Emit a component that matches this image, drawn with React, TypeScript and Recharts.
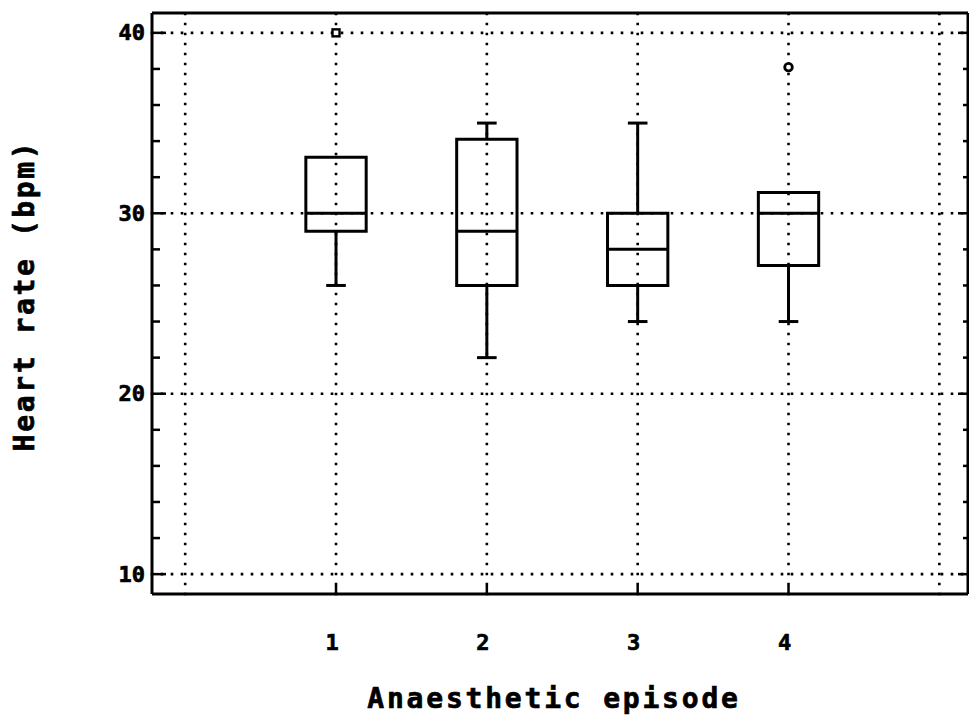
import React from 'react';
import { ComposedChart, XAxis, YAxis, ReferenceLine, ReferenceArea, Scatter } from 'recharts';

// box plot summary per anaesthetic episode (heart rate, bpm)
const episodes = [1, 2, 3, 4];
const whiskerLow = [26, 22, 24, 24];
const lowerQuartile = [29, 26, 26, 27.1];
const medians = [30, 29, 28, 30];
const upperQuartile = [33.1, 34.1, 30, 31.15];
const whiskerHigh = [33.1, 35, 35, 31.15];
const squareOutliers = [{ x: 1, y: 40 }];
const circleOutliers = [{ x: 4, y: 38.1 }];

const yTicks = [10, 12, 14, 16, 18, 20, 22, 24, 26, 28, 30, 32, 34, 36, 38, 40];
const xTicks = [1, 2, 3, 4];
const gridX = [0, 1, 2, 3, 4, 5];
const gridY = [10, 20, 30, 40];

const xTitle = 'Anaesthetic episode';
const yTitle = 'Heart rate (bpm)';

const FONT = '"DejaVu Sans Mono", "Liberation Mono", monospace';
const BOX_HALF = 0.2;
const CAP_HALF = 0.065;
const INK = '#000';

const dotted = {
  stroke: INK,
  strokeWidth: 2.6,
  strokeDasharray: '0 10',
  strokeLinecap: 'square' as const,
};

const solid = { stroke: INK, strokeWidth: 3 };

// heavier lettering, like the old plotter font
const heavy = { fontFamily: FONT, fontWeight: 'bold', fill: INK, stroke: INK, strokeWidth: 0.7 };

const LeftTick = (props: any) => {
  const { x, y, payload } = props;
  const major = payload.value % 10 === 0;
  return (
    <g>
      <line x1={x} y1={y} x2={x + (major ? 14 : 8)} y2={y} stroke={INK} strokeWidth={2.5} />
      {major && (
        <text x={x - 7} y={y} dy={7.5} textAnchor="end" fontSize={22} {...heavy}>
          {payload.value}
        </text>
      )}
    </g>
  );
};

const RightTick = (props: any) => {
  const { x, y, payload } = props;
  const major = payload.value % 10 === 0;
  return <line x1={x} y1={y} x2={x - (major ? 10 : 5)} y2={y} stroke={INK} strokeWidth={2.5} />;
};

const BottomTick = (props: any) => {
  const { x, y, payload } = props;
  return (
    <g>
      <line x1={x} y1={y} x2={x} y2={y - 9} stroke={INK} strokeWidth={2.5} />
      <text x={x - 4} y={y + 56} textAnchor="middle" fontSize={22} {...heavy}>
        {payload.value}
      </text>
    </g>
  );
};

const TopTick = (props: any) => {
  const { x, y } = props;
  return <line x1={x} y1={y} x2={x} y2={y + 8} stroke={INK} strokeWidth={2.5} />;
};

const XTitle = (props: any) => {
  const vb = props.viewBox || {};
  return (
    <text x={vb.x + vb.width / 2 - 6} y={vb.y + 114} textAnchor="middle" fontSize={28} letterSpacing={2.8} {...heavy}>
      {xTitle}
    </text>
  );
};

const YTitle = (props: any) => {
  const vb = props.viewBox || {};
  const cx = 34;
  const cy = vb.y + vb.height / 2 - 8;
  return (
    <text
      x={cx}
      y={cy}
      transform={`rotate(-90, ${cx}, ${cy})`}
      textAnchor="middle"
      fontSize={28}
      letterSpacing={2.6}
      {...heavy}
    >
      {yTitle}
    </text>
  );
};

const SquareMark = (props: any) => (
  <rect x={props.cx - 3.5} y={props.cy - 3.5} width={7} height={7} fill="#fff" stroke={INK} strokeWidth={2.4} />
);

const CircleMark = (props: any) => (
  <circle cx={props.cx} cy={props.cy} r={3.8} fill="#fff" stroke={INK} strokeWidth={2.8} />
);

export default function App() {
  return (
    <div style={{ position: 'absolute', left: 0, top: 0, width: 969, height: 720, background: '#fff' }}>
      <ComposedChart width={969} height={720} margin={{ top: 13, right: 1, bottom: 0, left: 0 }}>
        <XAxis
          xAxisId={0}
          dataKey="x"
          type="number"
          domain={[-0.22, 5.19]}
          ticks={xTicks}
          allowDataOverflow
          height={126}
          tickSize={0}
          tickMargin={0}
          tickLine={false}
          tick={BottomTick}
          axisLine={solid}
          label={XTitle}
        />
        <XAxis
          xAxisId="top"
          orientation="top"
          type="number"
          domain={[-0.22, 5.19]}
          ticks={xTicks}
          allowDataOverflow
          mirror
          tickSize={0}
          tickMargin={0}
          tickLine={false}
          tick={TopTick}
          axisLine={solid}
        />
        <YAxis
          yAxisId={0}
          type="number"
          domain={[8.9, 41.1]}
          ticks={yTicks}
          allowDataOverflow
          width={152}
          tickSize={0}
          tickMargin={0}
          tickLine={false}
          tick={LeftTick}
          axisLine={solid}
          label={YTitle}
        />
        <YAxis
          yAxisId="right"
          orientation="right"
          type="number"
          domain={[8.9, 41.1]}
          ticks={yTicks}
          allowDataOverflow
          mirror
          tickSize={0}
          tickMargin={0}
          tickLine={false}
          tick={RightTick}
          axisLine={solid}
        />

        {gridX.map((v) => (
          <ReferenceLine key={`gx${v}`} x={v} {...dotted} />
        ))}
        {gridY.map((v) => (
          <ReferenceLine key={`gy${v}`} y={v} {...dotted} />
        ))}

        {episodes.map((e, i) => (
          <ReferenceArea
            key={`box${e}`}
            x1={e - BOX_HALF}
            x2={e + BOX_HALF}
            y1={lowerQuartile[i]}
            y2={upperQuartile[i]}
            fill="none"
            fillOpacity={0}
            {...solid}
          />
        ))}
        {episodes.map((e, i) => (
          <ReferenceLine
            key={`med${e}`}
            segment={[{ x: e - BOX_HALF, y: medians[i] }, { x: e + BOX_HALF, y: medians[i] }]}
            {...solid}
          />
        ))}
        {episodes.map((e, i) =>
          whiskerLow[i] < lowerQuartile[i] ? (
            <ReferenceLine
              key={`wl${e}`}
              segment={[{ x: e, y: lowerQuartile[i] }, { x: e, y: whiskerLow[i] }]}
              {...solid}
            />
          ) : null
        )}
        {episodes.map((e, i) =>
          whiskerLow[i] < lowerQuartile[i] ? (
            <ReferenceLine
              key={`cl${e}`}
              segment={[{ x: e - CAP_HALF, y: whiskerLow[i] }, { x: e + CAP_HALF, y: whiskerLow[i] }]}
              {...solid}
            />
          ) : null
        )}
        {episodes.map((e, i) =>
          whiskerHigh[i] > upperQuartile[i] ? (
            <ReferenceLine
              key={`wh${e}`}
              segment={[{ x: e, y: upperQuartile[i] }, { x: e, y: whiskerHigh[i] }]}
              {...solid}
            />
          ) : null
        )}
        {episodes.map((e, i) =>
          whiskerHigh[i] > upperQuartile[i] ? (
            <ReferenceLine
              key={`ch${e}`}
              segment={[{ x: e - CAP_HALF, y: whiskerHigh[i] }, { x: e + CAP_HALF, y: whiskerHigh[i] }]}
              {...solid}
            />
          ) : null
        )}

        <Scatter data={squareOutliers} dataKey="y" shape={SquareMark} isAnimationActive={false} />
        <Scatter data={circleOutliers} dataKey="y" shape={CircleMark} isAnimationActive={false} />
      </ComposedChart>
    </div>
  );
}
